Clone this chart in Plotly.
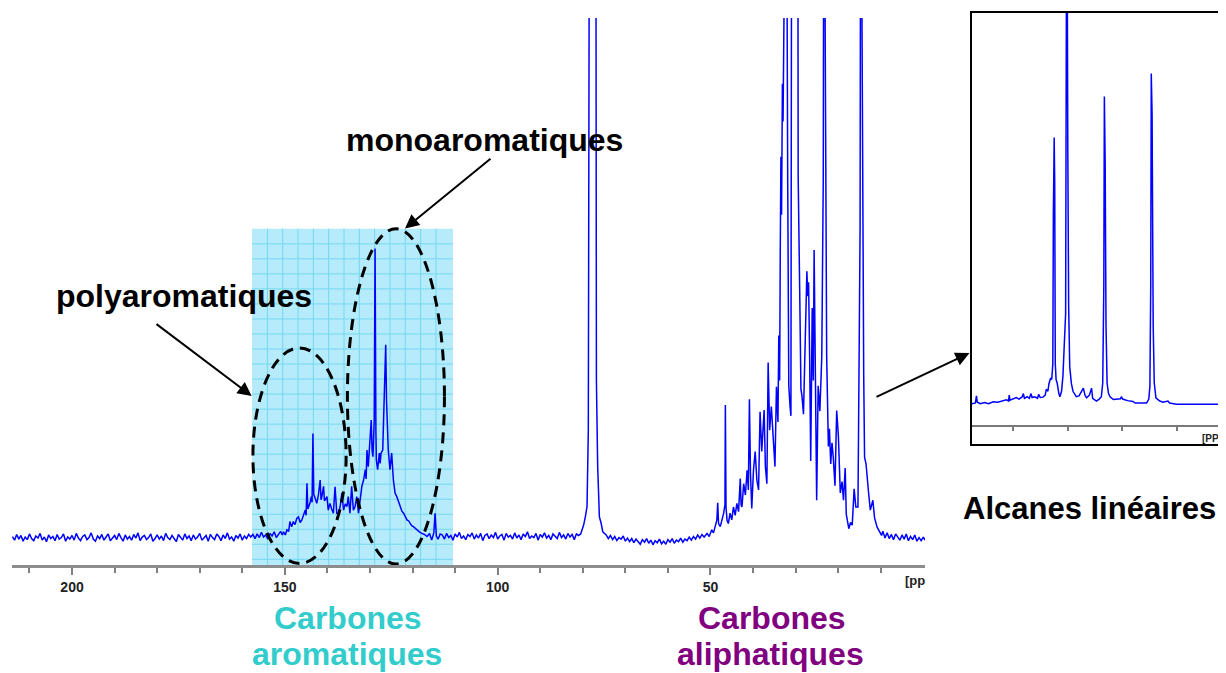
import plotly.graph_objects as go

OFF = 8                     # browser body margin around the figure
W, H = 1226 - OFF, 673 - OFF
FONT = "Liberation Sans, Arial, sans-serif"

# ---------------- DATA ----------------
# Main 13C NMR spectrum: (chemical shift / ppm, intensity). Baseline = 0, top of frame = 100.
base_left = [
    (214.0, -0.1), (213.5, -0.8), (213.0, 0.3), (212.5, -0.6), (212.0, 0.1), (211.5, -1.0), (211.0, -0.2), (210.5, -0.7),
    (210.0, 0.4), (209.5, -0.5), (209.0, -0.9), (208.5, 0.0), (208.0, -0.4), (207.5, 0.5), (207.0, -0.8), (206.5, -0.2),
    (206.0, -1.1), (205.5, 0.2), (205.0, -0.5), (204.5, -0.1), (204.0, -0.9), (203.5, 0.3), (203.0, -0.6), (202.5, -0.3),
    (202.0, 0.4), (201.5, -1.0), (201.0, -0.2), (200.5, -0.6), (200.0, 0.1), (199.5, -0.8), (199.0, 0.5), (198.5, -0.4),
    (198.0, -0.9), (197.5, -0.1), (197.0, 0.2), (196.5, -0.7), (196.0, -0.3), (195.5, 0.6), (195.0, -0.6), (194.5, -1.0),
    (194.0, 0.0), (193.5, -0.5), (193.0, 0.3), (192.5, -0.8), (192.0, -0.2), (191.5, 0.4), (191.0, -0.9), (190.5, -0.4),
    (190.0, 0.1), (189.5, -0.7), (189.0, 0.5), (188.5, -0.3), (188.0, -1.0), (187.5, 0.2), (187.0, -0.6), (186.5, -0.1),
    (186.0, -0.8), (185.5, 0.3), (185.0, -0.4), (184.5, 0.6), (184.0, -0.9), (183.5, -0.2), (183.0, 0.1), (182.5, -0.7),
    (182.0, -0.3), (181.5, 0.4), (181.0, -1.0), (180.5, -0.5), (180.0, 0.2), (179.5, -0.6), (179.0, 0.0), (178.5, -0.9),
    (178.0, 0.5), (177.5, -0.3), (177.0, -0.7), (176.5, 0.1), (176.0, -0.4), (175.5, -1.1), (175.0, 0.3), (174.5, -0.2),
    (174.0, -0.8), (173.5, 0.4), (173.0, -0.5), (172.5, 0.0), (172.0, -0.9), (171.5, 0.2), (171.0, -0.6), (170.5, -0.2),
    (170.0, 0.5), (169.5, -0.8), (169.0, -0.4), (168.5, 0.1), (168.0, -1.0), (167.5, 0.3), (167.0, -0.3), (166.5, -0.7),
    (166.0, 0.4), (165.5, -0.1), (165.0, -0.9), (164.5, 0.2), (164.0, -0.5), (163.5, 0.6), (163.0, -0.6), (162.5, -0.2),
    (162.0, -1.0), (161.5, 0.1), (161.0, -0.4), (160.5, 0.4), (160.0, -0.8), (159.5, 0.0), (159.0, -0.5), (158.5, 0.3),
    (158.0, -0.2),
]
base_aro_edge = [
    (157.5, 0.3), (157.0, -0.5), (156.5, 0.4), (156.0, -0.3), (155.5, 0.7), (155.0, -0.2), (154.5, 0.2),
    (154.0, -0.6), (153.5, 0.5), (153.0, 0.0), (152.5, 0.8), (152.0, -0.3), (151.5, 0.4), (151.0, 0.9),
    (150.6, 0.2),
]
aromatic = [
    (150.3, 0.8), (149.9, 0.2), (149.5, 1.2), (149.1, 0.9), (148.8, 2.8), (148.4, 1.8),
    (148.0, 2.8), (147.6, 2.2), (147.2, 3.4), (146.8, 3.7), (146.4, 2.6), (146.0, 3.1),
    (145.6, 4.2), (145.2, 5.0), (145.0, 4.0), (144.8, 10.2), (144.6, 5.2), (144.4, 5.7),
    (144.1, 6.3), (143.8, 7.6), (143.6, 6.5), (143.4, 19.8), (143.2, 8.0), (143.0, 7.6),
    (142.7, 6.6), (142.5, 6.3), (142.1, 8.0), (141.7, 10.8), (141.5, 7.0), (141.3, 7.6),
    (140.9, 9.6), (140.7, 6.8), (140.5, 7.0), (140.1, 7.6), (139.8, 5.0), (139.4, 6.3),
    (139.0, 5.2), (138.6, 4.4), (138.2, 9.5), (138.0, 5.0), (137.8, 4.4), (137.4, 4.4),
    (137.0, 5.7), (136.6, 8.3), (136.2, 5.0), (135.8, 6.2), (135.4, 5.7), (135.1, 7.6),
    (134.7, 4.4), (134.3, 9.6), (133.9, 5.0), (133.5, 5.7), (133.1, 7.6), (132.7, 4.4),
    (132.3, 7.0), (131.9, 9.6), (131.5, 10.8), (131.1, 12.8), (130.9, 11.0), (130.7, 16.6),
    (130.4, 13.4), (130.0, 17.9), (129.7, 22.4), (129.5, 16.5), (129.3, 15.3), (129.0, 22.4),
    (128.8, 55.5), (128.6, 20.0), (128.5, 14.7), (128.2, 12.8), (127.8, 16.0), (127.6, 14.0),
    (127.4, 16.0), (127.0, 16.6), (126.7, 23.7), (126.5, 30.0), (126.3, 36.9), (126.1, 26.0),
    (126.0, 22.4), (125.7, 16.6), (125.3, 12.8), (124.9, 16.0), (124.5, 10.8), (124.1, 8.3),
    (123.7, 7.6), (123.3, 6.5), (122.9, 5.7), (122.5, 4.8), (122.1, 4.4), (121.7, 3.6),
    (121.3, 3.1), (120.9, 2.9), (120.6, 2.4), (120.2, 2.0), (119.8, 1.8), (119.4, 1.5),
    (119.0, 1.2), (118.4, 0.8), (117.8, 0.5), (117.2, 0.3), (116.6, -0.1), (116.0, 0.5),
    (115.5, -0.8), (115.0, 0.6), (114.7, 4.4), (114.4, 0.0), (114.0, -0.6), (113.5, 0.4),
]
base_mid = [
    (113.0, 0.2), (112.5, -0.6), (112.0, 0.5), (111.5, -0.3), (111.0, 0.1), (110.5, -0.8), (110.0, 0.4), (109.5, -0.2),
    (109.0, 0.7), (108.5, -0.5), (108.0, 0.0), (107.5, -0.7), (107.0, 0.3), (106.5, -0.1), (106.0, 0.6), (105.5, -0.6),
    (105.0, 0.2), (104.5, -0.4), (104.0, 0.5), (103.5, -0.9), (103.0, 0.1), (102.5, 0.4), (102.0, -0.5), (101.5, 0.2),
    (101.0, -0.3), (100.5, 0.7), (100.0, -0.6), (99.5, 0.0), (99.0, 0.3), (98.5, -0.8), (98.0, 0.5), (97.5, -0.2),
    (97.0, 0.1), (96.5, -0.6), (96.0, 0.6), (95.5, -0.4), (95.0, 0.2), (94.5, -0.7), (94.0, 0.4), (93.5, -0.1),
    (93.0, 0.8), (92.5, -0.5), (92.0, 0.0), (91.5, -0.3), (91.0, 0.5), (90.5, -0.8), (90.0, 0.3), (89.5, -0.2),
    (89.0, 0.6), (88.5, -0.4), (88.0, 0.1), (87.5, -0.7), (87.0, 0.4), (86.5, 0.0), (86.0, -0.5), (85.5, 0.7),
    (85.0, -0.3), (84.5, 0.2), (84.0, -0.6), (83.5, 0.5), (83.0, -0.2), (82.5, 0.3), (82.0, -0.7), (81.5, 0.4),
    (81.0, 0.1),
]
solvent_peak = [
    (80.5, 0.4), (79.8, 2.1), (79.4, 3.7), (79.0, 5.7), (78.7, 20.5), (78.55, 65.0),
    (78.4, 150.0), (76.95, 150.0), (76.8, 30.0), (76.5, 13.4), (76.1, 3.7), (75.7, 2.5),
    (75.3, 0.8),
]
base_gap = [
    (74.5, 0.2), (74.0, -0.5), (73.5, 0.1), (73.0, -0.7), (72.5, -0.1), (72.0, -0.9), (71.5, -0.3), (71.0, -0.6),
    (70.5, 0.0), (70.0, -1.0), (69.5, -0.4), (69.0, -1.1), (68.5, -0.5), (68.0, -1.3), (67.5, -0.6), (67.0, -1.0),
    (66.5, -1.6), (66.0, -0.7), (65.5, -1.2), (65.0, -0.5), (64.5, -1.4), (64.0, -0.8), (63.5, -1.7), (63.0, -0.9),
    (62.5, -1.3), (62.0, -0.6), (61.5, -1.5), (61.0, -1.0), (60.5, -1.6), (60.0, -0.7), (59.5, -1.2), (59.0, -0.5),
    (58.5, -1.4), (58.0, -0.8), (57.5, -1.1), (57.0, -0.4), (56.5, -1.2), (56.0, -0.6), (55.5, -0.9), (55.0, -0.2),
    (54.5, -0.8), (54.0, -0.1), (53.5, -0.6), (53.0, 0.2), (52.5, -0.4), (52.0, 0.3), (51.5, -0.2),
]
aliphatic = [
    (50.8, 0.5), (50.3, -0.1), (49.7, 1.2), (49.3, 0.6), (48.9, 1.8), (48.5, 3.1), (48.3, 6.4),
    (48.1, 2.4), (47.7, 1.8), (47.3, 3.1), (46.9, 4.4), (46.6, 6.0), (46.5, 25.3), (46.35, 5.6),
    (46.1, 3.0), (45.8, 2.4), (45.4, 4.4), (45.0, 3.1), (44.6, 5.6), (44.2, 4.0), (43.8, 6.3),
    (43.4, 4.7), (43.0, 11.1), (42.8, 6.0), (42.6, 5.6), (42.2, 10.1), (41.8, 7.9), (41.4, 12.7),
    (41.1, 8.9), (40.85, 26.4), (40.6, 12.1), (40.3, 5.3), (39.9, 12.7), (39.5, 16.3),
    (39.1, 10.8), (38.7, 8.9), (38.35, 24.0), (37.95, 16.3), (37.7, 21.1), (37.4, 24.3),
    (37.1, 13.4), (36.75, 10.1), (36.45, 33.5), (36.1, 20.4), (35.7, 25.0), (35.3, 18.5),
    (34.85, 13.4), (34.5, 28.8), (34.15, 22.0), (33.95, 38.7), (33.75, 30.0), (33.6, 55.2),
    (33.45, 73.2), (33.3, 62.0), (33.1, 87.3), (32.95, 80.0), (32.8, 150.0), (32.2, 150.0),
    (31.85, 67.6), (31.6, 29.0), (31.3, 25.0), (31.1, 23.2), (30.9, 150.0), (29.5, 150.0),
    (29.4, 69.7), (29.25, 55.2), (29.0, 44.9), (28.75, 28.4), (28.5, 27.0), (28.15, 23.5),
    (27.8, 34.5), (27.55, 46.3), (27.35, 51.1), (27.15, 46.3), (26.95, 49.0), (26.7, 34.6),
    (26.45, 14.5), (26.1, 44.0), (25.85, 30.0), (25.65, 55.2), (25.4, 34.6), (25.05, 6.9),
    (24.7, 29.0), (24.3, 24.1), (23.85, 34.6), (23.5, 69.0), (23.35, 150.0), (23.15, 150.0),
    (23.0, 74.5), (22.7, 34.6), (22.3, 17.3), (22.05, 20.7), (21.75, 13.9), (21.45, 18.0),
    (21.15, 15.2), (20.75, 9.7), (20.35, 24.2), (19.95, 19.3), (19.5, 8.3), (19.1, 10.5),
    (18.75, 6.9), (18.35, 13.1), (18.1, 4.2), (17.5, 1.4), (17.1, 2.6), (16.7, 2.1),
    (16.25, 9.1), (15.85, 5.6), (15.35, 5.6), (15.05, 31.1), (14.85, 59.3), (14.7, 150.0),
    (14.5, 150.0), (14.3, 67.6), (14.0, 31.1), (13.8, 15.2), (13.45, 13.9), (12.85, 8.3),
    (12.45, 5.0), (11.85, 6.9), (11.45, 3.5), (10.85, 1.7), (10.2, 0.8),
]
base_right = [
    (9.8, 0.1), (9.5, 0.9), (9.0, -0.4), (8.5, 0.6), (8.0, -0.5), (7.5, 0.3), (7.0, -0.7), (6.5, 0.4),
    (6.0, -0.2), (5.5, -0.8), (5.0, 0.2), (4.5, -0.6), (4.0, 0.4), (3.5, -0.9), (3.0, -0.1), (2.5, -0.7),
    (2.0, 0.2), (1.5, -1.0), (1.0, -0.3), (0.5, -0.9), (0.0, -0.2), (-0.4, -0.8),
]

# Inset: linear alkanes spectrum (ppm, intensity; baseline = 0, top of box = 100)
inset_spec = [
    (49.0, -0.3), (48.3, 0.1), (47.5, -0.2), (46.9, 0.0), (46.7, 1.8), (46.55, 0.2), (46.0, -0.2),
    (45.2, 0.1), (44.5, -0.2), (43.6, 0.3), (42.8, 0.2), (42.0, 0.6), (41.2, 0.8), (40.8, 0.5),
    (40.7, 2.0), (40.55, 0.7), (40.0, 1.1), (39.4, 1.4), (38.9, 1.0), (38.3, 1.6), (38.1, 2.4),
    (37.9, 1.2), (37.4, 1.6), (37.0, 1.2), (36.7, 2.4), (36.5, 1.4), (36.0, 1.6), (35.5, 1.2),
    (35.3, 2.2), (35.0, 1.4), (34.5, 1.5), (34.1, 2.0), (33.9, 3.5), (33.6, 3.0), (33.4, 5.0),
    (33.25, 5.5), (33.1, 6.4), (32.9, 6.0), (32.7, 10.0), (32.6, 48.0), (32.45, 67.9),
    (32.35, 55.8), (32.25, 10.1), (32.1, 6.0), (31.9, 5.1), (31.6, 2.5), (31.4, 1.6), (31.1, 3.0),
    (30.85, 6.8), (30.55, 16.5), (30.35, 22.9), (30.2, 110.0), (30.05, 110.0), (29.95, 64.3),
    (29.8, 25.0), (29.6, 9.3), (29.3, 5.0), (29.0, 3.0), (28.4, 1.6), (27.9, 1.8), (27.4, 3.2),
    (27.1, 3.8), (26.8, 2.0), (26.5, 1.3), (26.0, 2.0), (25.6, 3.8), (25.4, 1.2), (25.0, 0.9),
    (24.7, 0.5), (24.2, 1.0), (23.8, 1.6), (23.55, 5.1), (23.35, 30.0), (23.25, 78.4),
    (23.1, 61.3), (22.95, 20.0), (22.75, 5.1), (22.5, 2.5), (22.2, 1.6), (21.6, 0.9), (21.0, 1.0),
    (20.3, 1.1), (20.1, 1.6), (19.9, 1.0), (19.0, 0.6), (18.0, 0.4), (17.6, 0.0), (16.5, 0.1),
    (15.5, 0.0), (15.1, 1.0), (14.9, 4.3), (14.75, 30.0), (14.65, 84.3), (14.5, 73.7),
    (14.3, 20.0), (14.1, 5.1), (13.8, 1.3), (13.1, 0.5), (12.5, 0.2), (11.6, 0.5), (11.3, 0.0),
    (10.0, -0.3), (7.0, -0.3), (0.5, -0.3),
]

major_ticks = [200, 150, 100, 50]
minor_ticks = [210, 190, 180, 170, 160, 140, 130, 120, 110, 90, 80, 70, 60, 40, 30, 20, 10]
inset_ticks = [40, 30, 20, 10]

labels = {
    "poly": "polyaromatiques",
    "mono": "monoaromatiques",
    "alc": "Alcanes linéaires",
    "carb": "Carbones",
    "aro": "aromatiques",
    "ali": "aliphatiques",
}

# ---------------- BUILD ----------------
main_pts = base_left + base_aro_edge + aromatic + base_mid + solvent_peak + base_gap + aliphatic + base_right
main_ppm = [p for p, _ in main_pts]
main_int = [v for _, v in main_pts]
inset_ppm = [p for p, _ in inset_spec]
inset_int = [v for _, v in inset_spec]


def px_x(px):
    return (px - OFF) / W


def px_y(py):
    return 1 - (py - OFF) / H


fig = go.Figure()
fig.add_trace(go.Scatter(x=main_ppm, y=main_int, mode="lines",
                         line=dict(color="#0000FF", width=1.5),
                         xaxis="x", yaxis="y", hoverinfo="skip", showlegend=False))
fig.add_trace(go.Scatter(x=inset_ppm, y=inset_int, mode="lines",
                         line=dict(color="#0000FF", width=1.5),
                         xaxis="x2", yaxis="y2", hoverinfo="skip", showlegend=False))

Y_MIN, Y_MAX = -5.6, 100
AX_GRAY = "#808080"
fig.update_layout(
    width=W, height=H,
    margin=dict(l=0, r=0, t=0, b=0),
    paper_bgcolor="white", plot_bgcolor="rgba(0,0,0,0)",
    showlegend=False,
    xaxis=dict(domain=[px_x(12), px_x(925)], range=[214.1, -0.4], anchor="y",
               showgrid=False, zeroline=False, showline=True, linecolor="#8c8c8c", linewidth=3,
               ticks="outside", ticklen=7, tickwidth=2, tickcolor=AX_GRAY,
               tickmode="array", tickvals=major_ticks,
               ticktext=[f"<b>{v}</b>" for v in major_ticks],
               tickfont=dict(family=FONT, size=14, color="#222222"),
               minor=dict(tickmode="array", tickvals=minor_ticks, ticks="outside",
                          ticklen=5, tickwidth=1.5, tickcolor=AX_GRAY, showgrid=False)),
    yaxis=dict(domain=[px_y(565), px_y(18)], range=[Y_MIN, Y_MAX], anchor="x", visible=False),
    xaxis2=dict(domain=[px_x(971), 1.0], range=[47.7, 0.95], anchor="y2",
                showgrid=False, zeroline=False, showline=True, linecolor="#7a7a7a", linewidth=1.5,
                ticks="outside", ticklen=4, tickwidth=1.5, tickcolor="#7a7a7a",
                tickmode="array", tickvals=inset_ticks, showticklabels=False),
    yaxis2=dict(domain=[px_y(425), px_y(12)], range=[-5.63, 100], anchor="x2", visible=False),
)

shapes = []
# aromatic zone (cyan, gridded)
zone_x0, zone_x1, zone_top = 157.7, 110.5, 59.3
shapes.append(dict(type="rect", xref="x", yref="y", x0=zone_x0, x1=zone_x1, y0=Y_MIN, y1=zone_top,
                   fillcolor="#B5EBFA", line=dict(width=0), layer="below"))
gx = zone_x0 - 3.6
while gx > zone_x1 + 0.5:
    shapes.append(dict(type="line", xref="x", yref="y", x0=gx, x1=gx, y0=Y_MIN, y1=zone_top,
                       line=dict(color="#74D8F2", width=1), layer="below"))
    gx -= 3.6
gy = zone_top - 2.9
while gy > Y_MIN + 0.5:
    shapes.append(dict(type="line", xref="x", yref="y", x0=zone_x0, x1=zone_x1, y0=gy, y1=gy,
                       line=dict(color="#74D8F2", width=1), layer="below"))
    gy -= 2.9

# dashed ellipses
for (ex0, ex1, ey0, ey1) in [(157.5, 135.6, -5.3, 36.3), (135.3, 112.5, -5.4, 59.3)]:
    shapes.append(dict(type="circle", xref="x", yref="y", x0=ex0, x1=ex1, y0=ey0, y1=ey1,
                       line=dict(color="black", width=3, dash="11px,7px"), layer="above"))

# inset frame (right side runs off the page)
shapes.append(dict(type="rect", xref="paper", yref="paper", x0=px_x(971), x1=px_x(1245),
                   y0=px_y(445), y1=px_y(12), line=dict(color="black", width=2)))
fig.update_layout(shapes=shapes)

ann = []


def text(t, cx, cy, size=32, color="black", xanchor="center"):
    ann.append(dict(text=f"<b>{t}</b>", x=px_x(cx), y=px_y(cy), xref="paper", yref="paper",
                    xanchor=xanchor, yanchor="middle", showarrow=False,
                    font=dict(family=FONT, size=size, color=color)))


def arrow(hx, hy, tx, ty):
    ann.append(dict(text="", x=px_x(hx), y=px_y(hy), xref="paper", yref="paper",
                    ax=tx - hx, ay=ty - hy, axref="pixel", ayref="pixel",
                    showarrow=True, arrowhead=2, arrowsize=1.4, arrowwidth=2,
                    arrowcolor="black", standoff=0))


text(labels["mono"], 484.5, 140)
text(labels["poly"], 183.5, 296)
text(labels["alc"], 1089, 509, size=31)
text(labels["carb"], 348, 618, color="#33CCCC")
text(labels["aro"], 347, 654, color="#33CCCC")
text(labels["carb"], 771.5, 618, color="#800080")
text(labels["ali"], 770.5, 654, color="#800080")
text("[pp", 903, 580, size=13, color="#222222", xanchor="left")
text("[PP", 1200, 439, size=10, color="#222222", xanchor="left")

arrow(251.7, 396, 155, 323)
arrow(405, 228.5, 492, 157.5)
arrow(969.5, 353, 875, 397.5)

fig.update_layout(annotations=ann)
fig.write_html("out.html")
